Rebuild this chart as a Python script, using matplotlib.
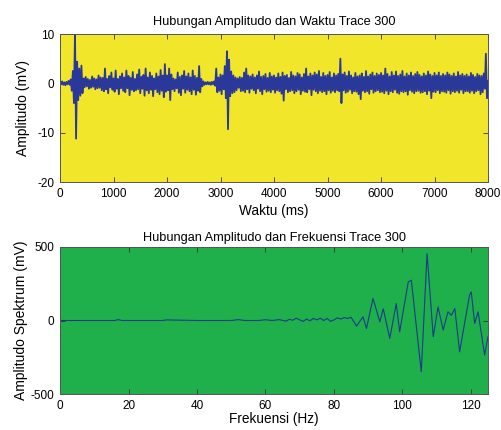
import numpy as np
import matplotlib
matplotlib.use("Agg")
import matplotlib.pyplot as plt

plt.rcParams['font.family'] = ['Liberation Sans', 'DejaVu Sans']
plt.rcParams['axes.unicode_minus'] = False

# trace 300, sampled every 20 ms (0 .. 8000 ms)
amp_trace = [
    0.3, -0.2, 0.4, -0.3, 0.2, -0.4, 0.3, -0.2, 0.5, -0.3, 0.8, -1.5, 2.5, -4.0, 10.5, -11.2, 4.4, -3.4, 3.0, -2.5,
    3.6, -2.0, 1.0, -0.8, 1.3, -0.6, 0.9, -1.1, 0.7, -0.9, 1.4, -0.7, 1.0, -1.2, 0.8, -1.0, 1.6, -0.9, 1.2, -1.4,
    1.1, -1.6, 3.0, -1.2, 0.9, -2.0, 1.5, -0.8, 2.2, -1.3, 1.0, -1.7, 2.6, -1.1, 0.9, -2.2, 1.4, -1.0, 2.0, -1.5,
    1.2, -1.8, 2.6, -1.0, 1.5, -2.4, 1.1, -1.3, 2.3, -1.6, 0.9, -1.4, 1.8, -1.2, 2.8, -2.0, 1.3, -1.1, 1.7, -2.5,
    3.0, -1.4, 1.2, -2.0, 2.2, -1.3, 1.5, -2.6, 1.0, -1.2, 2.0, -1.8, 1.4, -2.2, 2.7, -1.5, 1.6, -2.8, 3.9, -1.7,
    1.6, -1.4, 3.0, -3.4, 1.8, -1.2, 1.0, -1.6, 0.8, -1.0, 2.2, -1.9, 1.3, -2.4, 1.6, -1.1, 2.5, -1.9, 1.4, -1.3,
    2.0, -1.6, 1.2, -2.2, 2.6, -1.3, 1.5, -2.3, 1.1, -1.5, 3.5, -1.8, 0.9, -0.6, 0.4, -0.3, 0.2, -0.2, 0.3, -0.2,
    0.2, -0.3, 0.3, -0.2, 0.4, -0.5, 3.0, -1.8, 1.2, -1.5, 1.8, -2.2, 1.6, -1.2, 3.5, -3.0, 6.5, -9.3, 4.8, -2.6,
    2.4, -2.0, 1.6, -1.8, 1.2, -1.4, 1.0, -0.9, 1.3, -1.6, 1.1, -1.5, 2.2, -1.8, 3.0, -1.2, 1.6, -1.9, 1.4, -1.1,
    1.8, -1.4, 1.2, -2.0, 1.6, -1.1, 2.4, -1.6, 1.3, -2.2, 1.5, -1.2, 1.9, -1.7, 1.1, -1.5, 2.1, -1.8, 1.4, -1.3,
    1.6, -1.9, 1.2, -1.4, 2.0, -1.6, 1.3, -2.1, 2.2, -3.5, 1.5, -1.2, 1.7, -1.8, 1.1, -1.6, 2.3, -1.4, 1.6, -2.0,
    1.4, -1.6, 2.1, -1.3, 1.8, -2.2, 1.2, -1.5, 1.9, -1.7, 3.0, -1.8, 1.4, -1.2, 2.0, -2.4, 1.6, -1.3, 2.2, -1.6,
    1.8, -2.0, 2.5, -1.5, 1.3, -1.8, 2.1, -1.6, 1.5, -2.2, 1.7, -1.4, 2.3, -1.9, 1.2, -1.5, 2.0, -1.8, 1.6, -1.4,
    1.9, -1.6, 5.0, -4.0, 1.8, -1.4, 2.2, -1.9, 1.5, -1.7, 2.4, -1.3, 1.6, -2.0, 1.2, -1.6, 2.1, -1.7, 1.4, -2.2,
    1.6, -3.2, 2.0, -1.5, 1.3, -1.8, 2.5, -1.6, 1.4, -2.1, 1.8, -1.2, 2.2, -1.9, 1.5, -1.6, 2.0, -1.4, 1.7, -1.8,
    2.1, -1.7, 1.6, -2.0, 3.0, -1.5, 1.9, -2.2, 1.4, -1.6, 2.3, -1.8, 1.6, -1.3, 2.4, -1.9, 1.5, -2.1, 1.8, -1.6,
    2.5, -1.8, 1.4, -1.6, 2.0, -2.3, 1.6, -1.4, 2.2, -1.7, 1.5, -2.0, 1.9, -1.6, 2.3, -1.5, 1.7, -1.9, 1.4, -1.8,
    2.0, -1.6, 1.6, -2.2, 2.4, -1.5, 1.8, -3.0, 1.5, -1.7, 2.1, -1.8, 1.6, -1.4, 2.2, -2.0, 1.5, -1.6, 1.9, -1.7,
    1.6, -1.9, 2.2, -1.4, 1.8, -2.1, 1.5, -1.6, 2.0, -1.8, 1.4, -1.5, 2.3, -1.9, 1.6, -1.3, 1.9, -2.0, 1.5, -1.6,
    1.8, -1.6, 1.4, -1.9, 2.1, -1.5, 1.7, -2.0, 1.3, -1.6, 1.9, -1.4, 1.6, -2.2, 1.5, -1.8, 2.0, -1.1, 6.0, -3.0,
    0.5,
]
waktu = np.arange(len(amp_trace)) * 20

# spektrum
frek = [0, 10, 16, 17, 18, 25, 30, 31, 40, 50, 52, 54, 58, 60, 62, 64, 66, 67, 68, 69,
        70, 71, 72, 73, 74, 75, 76, 77, 78, 79, 80, 81, 82, 83, 84, 85, 86.6, 88.5, 89.5,
        91.4, 93.4, 94.4, 96.3, 98.2, 99.2, 101.7, 102.6, 105.5, 107.2, 109.0, 110.4,
        111.9, 113.3, 114.3, 115.3, 116.7, 119.6, 120.1, 121.1, 122.1, 124.0, 125.0]
spektrum = [0, 0, 0, 6, 0, 0, 0, 4, 0, 0, 6, 0, 0, 5, 0, 6, -4, 8, 2, 16,
            4, -6, 10, -2, 14, 4, 16, 0, 14, -6, 4, 18, 10, 20, 14, 22, -38, 25, -54,
            150, -9, 80, -122, 115, -77, 262, 274, -348, 455, -110, 93,
            -65, 59, 36, 81, -213, 172, 195, -20, 59, -235, -110]

fig = plt.figure(figsize=(5.01, 4.30), dpi=100)
ax1 = fig.add_axes([0.1198, 0.5767, 0.8543, 0.3442])
ax2 = fig.add_axes([0.1198, 0.0837, 0.8543, 0.3419])


def gaya(ax):
    ax.tick_params(direction='in', top=True, right=True, length=3.5, width=0.6,
                   labelsize=8.5, pad=4, colors='#333333', labelcolor='black')
    for s in ax.spines.values():
        s.set_color('#555555')
        s.set_linewidth(0.7)


ax1.set_facecolor('#f2e62b')
ax1.plot(waktu, amp_trace, color='#2a3899', lw=1.3)
ax1.set_xlim(0, 8000)
ax1.set_ylim(-20, 10)
ax1.set_xticks(range(0, 8001, 1000))
ax1.set_yticks([-20, -10, 0, 10])
ax1.set_title('Hubungan Amplitudo dan Waktu Trace 300', fontsize=9.2, pad=6.5)
ax1.set_xlabel('Waktu (ms)', fontsize=9.8, labelpad=3)
ax1.set_ylabel('Amplitudo (mV)', fontsize=10, labelpad=5)
gaya(ax1)

ax2.set_facecolor('#1fb04b')
ax2.plot(frek, spektrum, color='#1b3a8c', lw=0.8)
ax2.set_xlim(0, 125)
ax2.set_ylim(-500, 500)
ax2.set_xticks(range(0, 121, 20))
ax2.set_yticks([-500, 0, 500])
ax2.set_title('Hubungan Amplitudo dan Frekuensi Trace 300', fontsize=9.2, pad=4)
ax2.set_xlabel('Frekuensi (Hz)', fontsize=9.8, labelpad=0)
ax2.set_ylabel('Amplitudo Spektrum (mV)', fontsize=10, labelpad=2)
gaya(ax2)

fig.savefig('out.png', dpi=100)
